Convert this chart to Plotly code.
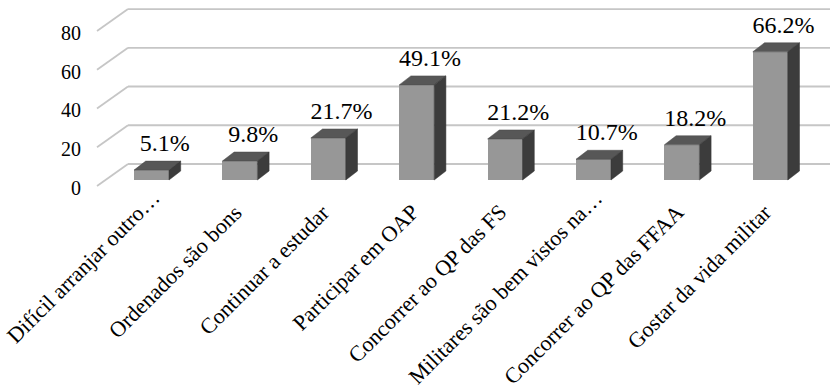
import plotly.graph_objects as go

categories = ["Difícil arranjar outro…", "Ordenados são bons", "Continuar a estudar",
              "Participar em OAP", "Concorrer ao QP das FS", "Militares são bem vistos na…",
              "Concorrer ao QP das FFAA", "Gostar da vida militar"]
values = [5.1, 9.8, 21.7, 49.1, 21.2, 10.7, 18.2, 66.2]
labels = ["5.1%", "9.8%", "21.7%", "49.1%", "21.2%", "10.7%", "18.2%", "66.2%"]
yticks = [0, 20, 40, 60, 80]

W, H = 830, 389
PX_PER_X = 88.4
PX_PER_Y = 1.937
X0_PX = 151.5
Y0_PX = 180.0
PLOT_B = 215

x_range = [(0 - X0_PX) / PX_PER_X, (W - X0_PX) / PX_PER_X]
y_range = [(Y0_PX - PLOT_B) / PX_PER_Y, (Y0_PX - 0) / PX_PER_Y]

bar_w = 35 / PX_PER_X
dep_dx = 11.7 / PX_PER_X
dep_dy = 9.0 / PX_PER_Y
back_dx = 22.5 / PX_PER_X
back_dy = 16.0 / PX_PER_Y
front_dx = -8.5 / PX_PER_X
front_dy = -6.0 / PX_PER_Y
left_x = (105.5 - X0_PX) / PX_PER_X

FONT = "Liberation Serif"
xs = list(range(len(categories)))

fig = go.Figure()

shapes = []
grid_col = "#c6c6c6"
for v in yticks:
    fx, fy = left_x + front_dx, v + front_dy
    bx, by = left_x + back_dx, v + back_dy
    shapes.append(dict(type="line", xref="x", yref="y", x0=fx, y0=fy, x1=bx, y1=by,
                       line=dict(color=grid_col, width=1.8), layer="below"))
    shapes.append(dict(type="line", xref="x", yref="y", x0=bx, y0=by, x1=x_range[1] + 1, y1=by,
                       line=dict(color=grid_col, width=1.8), layer="below"))

fig.add_trace(go.Bar(x=xs, y=values, width=bar_w, marker=dict(color="#979797", line=dict(width=0)),
                     hoverinfo="skip", showlegend=False))

tx, ty = [], []
sx, sy = [], []
for i, v in zip(xs, values):
    l, r = i - bar_w / 2, i + bar_w / 2
    tx += [l, r, r + dep_dx, l + dep_dx, l, None]
    ty += [v, v, v + dep_dy, v + dep_dy, v, None]
    sx += [r, r, r + dep_dx, r + dep_dx, r, None]
    sy += [0, v, v + dep_dy, dep_dy, 0, None]
fig.add_trace(go.Scatter(x=tx, y=ty, fill="toself", fillcolor="#575757", mode="lines",
                         line=dict(color="#4a4a4a", width=0.5), hoverinfo="skip", showlegend=False))
fig.add_trace(go.Scatter(x=sx, y=sy, fill="toself", fillcolor="#3c3c3c", mode="lines",
                         line=dict(color="#333333", width=0.5), hoverinfo="skip", showlegend=False))

fig.add_trace(go.Scatter(x=[i + 0.15 for i in xs], y=[v + dep_dy + 2.0 for v in values],
                         mode="text", text=labels, textposition="top center",
                         textfont=dict(family=FONT, size=24, color="black"),
                         hoverinfo="skip", showlegend=False, cliponaxis=False))

fig.add_trace(go.Scatter(x=[left_x + front_dx - 16 / PX_PER_X] * len(yticks),
                         y=[v + front_dy - 2.0 for v in yticks],
                         mode="text", text=[str(v) for v in yticks], textposition="middle left",
                         textfont=dict(family=FONT, size=20, color="black"),
                         hoverinfo="skip", showlegend=False, cliponaxis=False))

annotations = []
for i, c in zip(xs, categories):
    truncated = c.endswith("…")
    ax_px = (16.2 if truncated else 9.2)
    ay_px = (182.8 if truncated else 196.8)
    annotations.append(dict(x=i + ax_px / PX_PER_X, y=(Y0_PX - ay_px) / PX_PER_Y,
                            xref="x", yref="y", text=c, showarrow=False,
                            textangle=-45, xanchor="right", yanchor="top",
                            font=dict(family=FONT, size=22, color="black")))

fig.update_layout(
    width=W, height=H,
    font=dict(family=FONT, color="black"),
    margin=dict(l=0, r=0, t=0, b=H - PLOT_B, autoexpand=False),
    paper_bgcolor="white", plot_bgcolor="white",
    shapes=shapes, annotations=annotations,
    xaxis=dict(range=x_range, showticklabels=False, showgrid=False, zeroline=False, showline=False,
               ticks="", automargin=False, fixedrange=True),
    yaxis=dict(range=y_range, showgrid=False, zeroline=False, showline=False,
               showticklabels=False, ticks="", automargin=False, fixedrange=True),
    bargap=0,
)

fig.write_html("out.html")
